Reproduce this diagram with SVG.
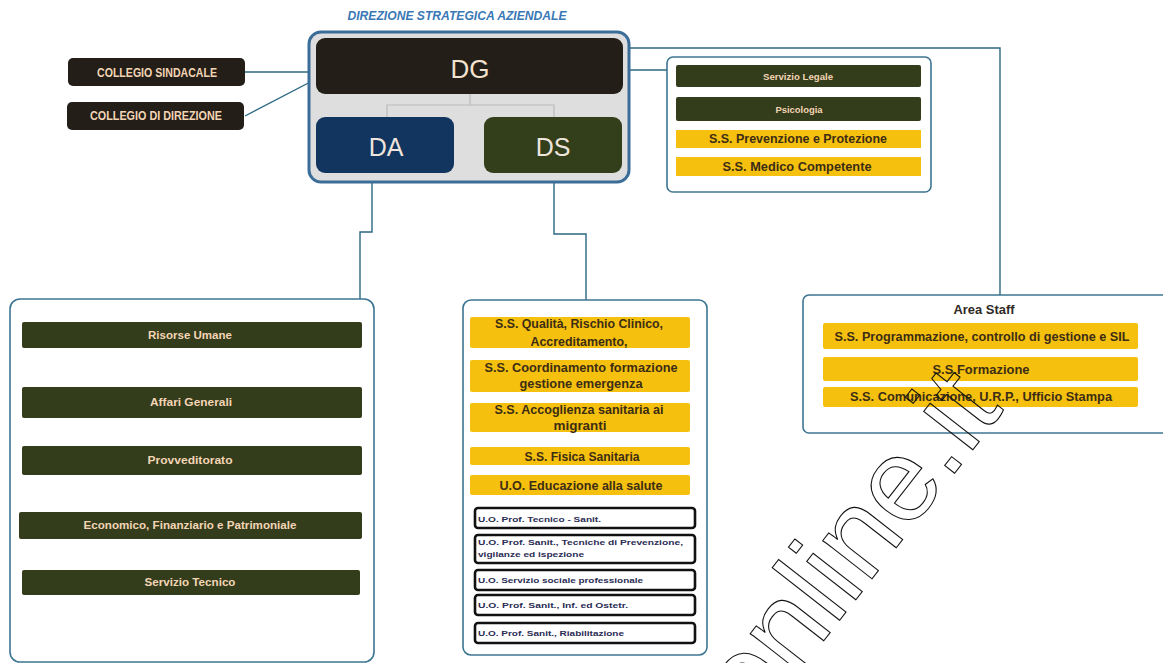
<svg xmlns="http://www.w3.org/2000/svg" width="1163" height="663" viewBox="0 0 1163 663">
<style>
text{font-family:"Liberation Sans","Open Sans",sans-serif;text-anchor:middle}
.dk{fill:#231e17}
.ol{fill:#333c1b}
.yl{fill:#f6c00e}
.pe{fill:#f3d5b5;font-weight:bold}
.yt{fill:#3c2d14;font-weight:bold;font-size:12px}
.wb{fill:#fff;stroke:#111;stroke-width:2.6}
.wt{fill:#2a2c55;font-size:8px;text-anchor:start;font-weight:bold}
.box{fill:#fff;stroke:#3c7591;stroke-width:1.6}
.con{fill:none;stroke:#2b6782;stroke-width:1.4}
</style>
<rect width="1163" height="663" fill="#fff"/>
<text x="457" y="20" font-size="12" font-weight="bold" font-style="italic" fill="#3a78b5" textLength="219" lengthAdjust="spacingAndGlyphs">DIREZIONE STRATEGICA AZIENDALE</text>
<g id="connectors">
<path class="con" d="M245,72 H316"/>
<path class="con" d="M245,116 L318,78"/>
<path class="con" d="M588,70 H667"/>
<path class="con" d="M600,48 H1000 V295"/>
<path class="con" d="M372,173 V232 H360 V299"/>
<path class="con" d="M554,173 V234 H586 V300"/>
</g>
<g id="dsa">
<rect x="309" y="32" width="320" height="150" rx="12" fill="#dedede" stroke="#3a6d98" stroke-width="3"/>
<path d="M470,94 V105 M387,117 V105 H554 V117" fill="none" stroke="#b9b9b9" stroke-width="1.2"/>
</g>
<g id="dg">
<rect x="316" y="38" width="307" height="56" rx="9" class="dk"/>
<text x="470" y="78" font-size="26" fill="#f3e2d0">DG</text>
</g>
<g id="da">
<rect x="316" y="117" width="138" height="56" rx="9" fill="#12355f"/>
<text x="386" y="156" font-size="25" fill="#eee4dc">DA</text>
</g>
<g id="ds">
<rect x="484" y="117" width="138" height="56" rx="9" fill="#333e1b"/>
<text x="553" y="156" font-size="25" fill="#eee4dc">DS</text>
</g>
<g id="collegio-sindacale">
<rect x="68" y="58" width="177" height="28" rx="5" class="dk"/>
<text x="157" y="77" font-size="12" class="pe" textLength="120" lengthAdjust="spacingAndGlyphs">COLLEGIO SINDACALE</text>
</g>
<g id="collegio-direzione">
<rect x="67" y="102" width="177" height="28" rx="5" class="dk"/>
<text x="156" y="120" font-size="12" class="pe" textLength="132" lengthAdjust="spacingAndGlyphs">COLLEGIO DI DIREZIONE</text>
</g>
<g id="staff-dg">
<rect x="667" y="57" width="264" height="135" rx="6" class="box"/>
<rect x="676" y="65" width="245" height="22" rx="2" class="ol"/>
<text x="798" y="80" font-size="9" class="pe" textLength="70" lengthAdjust="spacingAndGlyphs">Servizio Legale</text>
<rect x="676" y="97" width="245" height="24" rx="2" class="ol"/>
<text x="799" y="113" font-size="9" class="pe" textLength="47" lengthAdjust="spacingAndGlyphs">Psicologia</text>
<rect x="676" y="130" width="245" height="18" class="yl"/>
<text x="798" y="143" class="yt" textLength="178" lengthAdjust="spacingAndGlyphs">S.S. Prevenzione  e Protezione</text>
<rect x="676" y="157" width="245" height="19" class="yl"/>
<text x="797" y="171" class="yt" textLength="149" lengthAdjust="spacingAndGlyphs">S.S. Medico  Competente</text>
</g>
<g id="area-staff">
<rect x="803" y="295" width="380" height="138" rx="6" class="box"/>
<text x="984" y="314" font-size="12" font-weight="bold" fill="#2f2a26" textLength="61" lengthAdjust="spacingAndGlyphs">Area Staff</text>
<rect x="823" y="323" width="315" height="26" rx="2" class="yl"/>
<text x="982" y="341" class="yt" textLength="295" lengthAdjust="spacingAndGlyphs">S.S. Programmazione,  controllo  di gestione e SIL</text>
<rect x="823" y="357" width="315" height="24" rx="2" class="yl"/>
<text x="981" y="374" class="yt" textLength="97" lengthAdjust="spacingAndGlyphs">S.S.Formazione</text>
<rect x="823" y="387" width="315" height="20" rx="2" class="yl"/>
<text x="981" y="401" class="yt" textLength="262" lengthAdjust="spacingAndGlyphs">S.S. Comunicazione,  U.R.P., Ufficio Stampa</text>
</g>
<g id="da-units">
<rect x="10" y="299" width="364" height="363" rx="10" class="box"/>
<rect x="22" y="322" width="340" height="26" rx="2" class="ol"/>
<text x="190" y="339" font-size="10" class="pe" textLength="84" lengthAdjust="spacingAndGlyphs">Risorse Umane</text>
<rect x="22" y="387" width="340" height="31" rx="2" class="ol"/>
<text x="191" y="406" font-size="10" class="pe" textLength="82" lengthAdjust="spacingAndGlyphs">Affari Generali</text>
<rect x="22" y="446" width="340" height="29" rx="2" class="ol"/>
<text x="190" y="464" font-size="10" class="pe" textLength="85" lengthAdjust="spacingAndGlyphs">Provveditorato</text>
<rect x="19" y="512" width="343" height="27" rx="2" class="ol"/>
<text x="190" y="529" font-size="10" class="pe" textLength="213" lengthAdjust="spacingAndGlyphs">Economico, Finanziario e Patrimoniale</text>
<rect x="22" y="570" width="338" height="25" rx="2" class="ol"/>
<text x="190" y="586" font-size="10" class="pe" textLength="91" lengthAdjust="spacingAndGlyphs">Servizio Tecnico</text>
</g>
<g id="ds-units">
<rect x="463" y="300" width="244" height="355" rx="8" class="box"/>
<rect x="470" y="317" width="220" height="31" rx="2" class="yl"/>
<text x="579" y="328" class="yt" textLength="168" lengthAdjust="spacingAndGlyphs">S.S. Qualità,  Rischio Clinico,</text>
<text x="579" y="346" class="yt" textLength="97" lengthAdjust="spacingAndGlyphs">Accreditamento,</text>
<rect x="470" y="360" width="220" height="32" rx="2" class="yl"/>
<text x="581" y="372" class="yt" textLength="193" lengthAdjust="spacingAndGlyphs">S.S. Coordinamento   formazione</text>
<text x="581" y="388" class="yt" textLength="123" lengthAdjust="spacingAndGlyphs">gestione emergenza</text>
<rect x="470" y="403" width="220" height="29" rx="2" class="yl"/>
<text x="579" y="414" class="yt" textLength="169" lengthAdjust="spacingAndGlyphs">S.S. Accoglienza  sanitaria ai</text>
<text x="580" y="430" class="yt" textLength="53" lengthAdjust="spacingAndGlyphs">migranti</text>
<rect x="470" y="447" width="220" height="18" rx="2" class="yl"/>
<text x="582" y="461" class="yt" textLength="115" lengthAdjust="spacingAndGlyphs">S.S. Fisica Sanitaria</text>
<rect x="470" y="475" width="220" height="20" rx="2" class="yl"/>
<text x="581" y="490" class="yt" textLength="163" lengthAdjust="spacingAndGlyphs">U.O. Educazione  alla salute</text>
<rect x="475" y="508" width="220" height="20" rx="3" class="wb"/>
<text x="478" y="522" class="wt" textLength="123" lengthAdjust="spacingAndGlyphs">U.O.  Prof. Tecnico - Sanit.</text>
<rect x="475" y="535" width="220" height="28" rx="3" class="wb"/>
<text x="478" y="545" class="wt" textLength="205" lengthAdjust="spacingAndGlyphs">U.O.  Prof. Sanit.,  Tecniche di  Prevenzione,</text>
<text x="478" y="557" class="wt" textLength="106" lengthAdjust="spacingAndGlyphs">vigilanze  ed ispezione</text>
<rect x="475" y="570" width="220" height="20" rx="3" class="wb"/>
<text x="478" y="583" class="wt" textLength="165" lengthAdjust="spacingAndGlyphs">U.O.  Servizio sociale professionale</text>
<rect x="475" y="595" width="220" height="20" rx="3" class="wb"/>
<text x="478" y="608" class="wt" textLength="150" lengthAdjust="spacingAndGlyphs">U.O.  Prof. Sanit.,  Inf. ed Ostetr.</text>
<rect x="475" y="623" width="220" height="20" rx="3" class="wb"/>
<text x="478" y="636" class="wt" textLength="146" lengthAdjust="spacingAndGlyphs">U.O.  Prof. Sanit.,  Riabilitazione</text>
</g>
<text transform="translate(754,730) rotate(-52)" x="0" y="0" font-family="Open Sans, sans-serif" font-size="118" fill="none" stroke="#111" stroke-width="1.1" style="text-anchor:start">online.it</text>
</svg>
